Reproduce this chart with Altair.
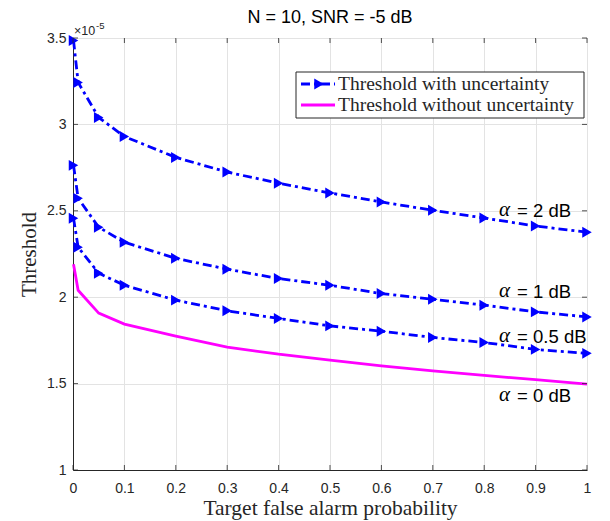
import altair as alt
import pandas as pd

# Target false alarm probability
pfa = [0.001, 0.01, 0.05, 0.1, 0.2, 0.3, 0.4, 0.5, 0.6, 0.7, 0.8, 0.9, 1.0]
# Threshold (x 1e-5) with uncertainty, alpha = 2, 1, 0.5 dB
thr_a2 = [3.486, 3.243, 3.040, 2.930, 2.809, 2.724, 2.660, 2.603, 2.551, 2.503, 2.458, 2.412, 2.376]
thr_a1 = [2.763, 2.572, 2.405, 2.318, 2.225, 2.162, 2.108, 2.069, 2.021, 1.988, 1.954, 1.915, 1.886]
thr_a05 = [2.457, 2.289, 2.139, 2.069, 1.983, 1.921, 1.877, 1.834, 1.803, 1.767, 1.738, 1.698, 1.675]
# Threshold without uncertainty (alpha = 0 dB)
thr_a0 = [2.190, 2.040, 1.908, 1.844, 1.775, 1.711, 1.670, 1.636, 1.603, 1.574, 1.547, 1.523, 1.497]

alpha_names = ["2", "1", "0.5"]
label_alpha = ["2 dB", "1 dB", "0.5 dB", "0 dB"]
label_x = [0.829, 0.829, 0.829, 0.829]
label_y = [2.497, 2.029, 1.769, 1.428]

x_ticks = [0, 0.1, 0.2, 0.3, 0.4, 0.5, 0.6, 0.7, 0.8, 0.9, 1]
y_ticks = [1, 1.5, 2, 2.5, 3, 3.5]
legend_labels = ["Threshold with uncertainty", "Threshold without uncertainty"]
title_text = "N = 10, SNR = -5 dB"

rows = []
for name, vals in zip(alpha_names, [thr_a2, thr_a1, thr_a05]):
    for p, v in zip(pfa, vals):
        rows.append({"pfa": p, "thr": v, "alpha": name})
unc = pd.DataFrame(rows)
nounc = pd.DataFrame({"pfa": pfa, "thr": thr_a0})
labels = pd.DataFrame({"x": label_x, "y": label_y, "t": ["= " + s for s in label_alpha]})
one = pd.DataFrame({"a": [0]})

BLUE = "#0000ff"
MAG = "#ff00ff"
AX = "#262626"
SANS = "Liberation Sans"
SERIF = "Liberation Serif"
DASH = [9, 4, 3, 4]
LW = 2.8
MS = 120

xs = alt.Scale(domain=[0, 1], nice=False, zero=False)
ys = alt.Scale(domain=[1, 3.5], nice=False, zero=False)

xax = alt.Axis(values=x_ticks, format="~g", title="Target false alarm probability",
               grid=True, gridColor="#e3e3e3", tickSize=0, labelPadding=11,
               labelFont=SANS, labelFontSize=14, labelColor=AX,
               titleFont=SERIF, titleFontSize=21.5, titleFontWeight="normal", titleColor=AX,
               titlePadding=2, domainColor=AX, labelFlush=False)
yax = alt.Axis(values=y_ticks, format="~g", title="Threshold",
               grid=True, gridColor="#e3e3e3", tickSize=0, labelPadding=7,
               labelFont=SANS, labelFontSize=14, labelColor=AX,
               titleFont=SERIF, titleFontSize=21, titleFontWeight="normal", titleColor=AX,
               titlePadding=7, domainColor=AX, labelFlush=False)

base_unc = alt.Chart(unc)
lines = base_unc.mark_line(color=BLUE, strokeWidth=LW, strokeDash=DASH).encode(
    x=alt.X("pfa:Q", scale=xs, axis=xax),
    y=alt.Y("thr:Q", scale=ys, axis=yax),
    detail="alpha:N",
)
pts = base_unc.mark_point(shape="triangle-right", filled=True, size=MS, color=BLUE, opacity=1).encode(
    x=alt.X("pfa:Q", scale=xs), y=alt.Y("thr:Q", scale=ys))
mag = alt.Chart(nounc).mark_line(color=MAG, strokeWidth=LW).encode(
    x=alt.X("pfa:Q", scale=xs), y=alt.Y("thr:Q", scale=ys))

# inward ticks (MATLAB box style)
tk_x = pd.DataFrame({"v": x_ticks})
tk_y = pd.DataFrame({"v": y_ticks})
tx = 5 / 432 * 2.5
ty = 5 / 514
ticks = alt.layer(
    alt.Chart(tk_x).mark_rule(color=AX, strokeWidth=0.8).encode(
        x=alt.X("v:Q", scale=xs), y=alt.datum(1), y2=alt.datum(1 + tx)),
    alt.Chart(tk_x).mark_rule(color=AX, strokeWidth=0.8).encode(
        x=alt.X("v:Q", scale=xs), y=alt.datum(3.5 - tx), y2=alt.datum(3.5)),
    alt.Chart(tk_y).mark_rule(color=AX, strokeWidth=0.8).encode(
        y=alt.Y("v:Q", scale=ys), x=alt.datum(0), x2=alt.datum(ty)),
    alt.Chart(tk_y).mark_rule(color=AX, strokeWidth=0.8).encode(
        y=alt.Y("v:Q", scale=ys), x=alt.datum(1 - ty), x2=alt.datum(1)),
)

alpha_sym = alt.Chart(labels).mark_text(font=SERIF, fontStyle="italic", fontSize=21,
                                        align="left", baseline="middle", color="black", dy=-1).encode(
    x=alt.X("x:Q", scale=xs), y=alt.Y("y:Q", scale=ys), text=alt.value("α"))
alpha_txt = alt.Chart(labels).mark_text(font=SANS, fontSize=18.5, align="left", baseline="middle",
                                        dx=18, color="black").encode(
    x=alt.X("x:Q", scale=xs), y=alt.Y("y:Q", scale=ys), text="t:N")

expo = alt.layer(
    alt.Chart(one).mark_text(font=SANS, fontSize=12.5, align="left", baseline="alphabetic", color=AX).encode(
        x=alt.value(1), y=alt.value(-3), text=alt.value("×10")),
    alt.Chart(one).mark_text(font=SANS, fontSize=9.5, align="left", baseline="alphabetic", color=AX).encode(
        x=alt.value(23), y=alt.value(-9), text=alt.value("-5")),
)

title = alt.Chart(one).mark_text(font=SANS, fontSize=18, align="center", baseline="middle",
                                 color="black").encode(
    x=alt.value(257), y=alt.value(-20), text=alt.value(title_text))

legend = alt.layer(
    alt.Chart(one).mark_rect(fill="white", stroke=AX, strokeWidth=1).encode(
        x=alt.value(223), x2=alt.value(511), y=alt.value(34), y2=alt.value(80)),
    alt.Chart(one).mark_rule(color=BLUE, strokeWidth=LW, strokeDash=DASH).encode(
        x=alt.value(228), x2=alt.value(262), y=alt.value(46)),
    alt.Chart(one).mark_point(shape="triangle-right", filled=True, size=MS, color=BLUE, opacity=1).encode(
        x=alt.value(246), y=alt.value(46)),
    alt.Chart(one).mark_rule(color=MAG, strokeWidth=LW).encode(
        x=alt.value(228), x2=alt.value(262), y=alt.value(67)),
    alt.Chart(one).mark_text(font=SERIF, fontSize=19.5, align="left", baseline="middle", color=AX).encode(
        x=alt.value(265), y=alt.value(46), text=alt.value(legend_labels[0])),
    alt.Chart(one).mark_text(font=SERIF, fontSize=19.5, align="left", baseline="middle", color=AX).encode(
        x=alt.value(265), y=alt.value(67), text=alt.value(legend_labels[1])),
)

chart = alt.layer(lines, mag, pts, ticks, alpha_sym, alpha_txt, expo, title, legend).properties(
    width=514, height=432,
    autosize=alt.AutoSizeParams(type="none"),
    padding={"left": 73, "top": 38, "right": 23, "bottom": 51},
).configure_view(stroke=AX, strokeWidth=1).configure(background="white")

chart.save("out.html", embed_options={"renderer": "svg", "actions": False})
